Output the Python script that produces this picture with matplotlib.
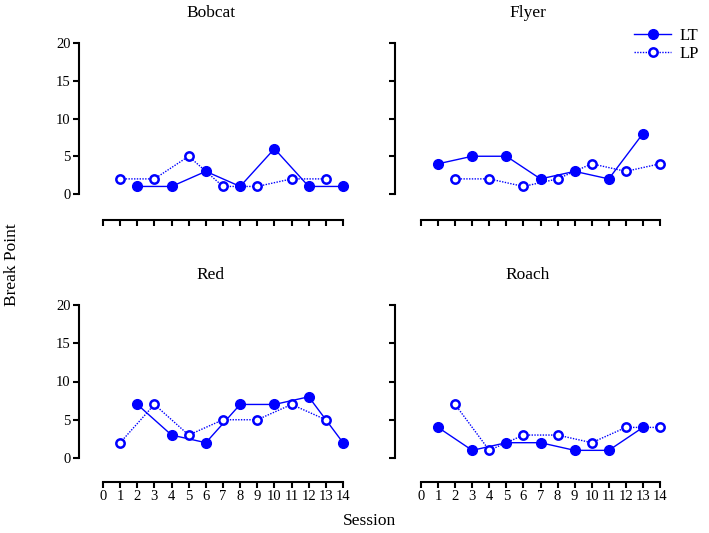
import numpy as np
import matplotlib
matplotlib.use("Agg")
import matplotlib.pyplot as plt

plt.rcParams['font.family'] = ['Liberation Serif', 'DejaVu Serif']

odd = [1, 3, 5, 7, 9, 11, 13]
even = [2, 4, 6, 8, 10, 12, 14]

names = ["Bobcat", "Flyer", "Red", "Roach"]
lt_x = [even, odd, even, odd]
lt_y = [[1, 1, 3, 1, 6, 1, 1],
        [4, 5, 5, 2, 3, 2, 8],
        [7, 3, 2, 7, 7, 8, 2],
        [4, 1, 2, 2, 1, 1, 4]]
lp_x = [odd, even, odd, even]
lp_y = [[2, 2, 5, 1, 1, 2, 2],
        [2, 2, 1, 2, 4, 3, 4],
        [2, 7, 3, 5, 5, 7, 5],
        [7, 1, 3, 3, 2, 4, 4]]

W, H = 709, 533
blue = "#0000ff"

fig = plt.figure(figsize=(W / 100, H / 100), dpi=100)

# pixel boxes: (x0 data, x14 data, y0 data, y20 data, left spine x, bottom spine y)
boxes = [(103, 343, 194, 43, 79, 220),
         (421, 660, 194, 43, 395, 220),
         (103, 343, 458, 305, 79, 482),
         (421, 660, 458, 305, 395, 482)]

for i, (name, b) in enumerate(zip(names, boxes)):
    x0, x1, y0, y1, sx, sy = b
    ax = fig.add_axes([x0 / W, 1 - y0 / H, (x1 - x0) / W, (y0 - y1) / H])
    ax.set_xlim(0, 14)
    ax.set_ylim(0, 20)
    ax.patch.set_alpha(0)
    for s in ['top', 'right']:
        ax.spines[s].set_visible(False)
    ax.spines['left'].set_position(('outward', (x0 - sx) * 0.72))
    ax.spines['bottom'].set_position(('outward', (sy - y0) * 0.72))
    for s in ['left', 'bottom']:
        ax.spines[s].set_linewidth(1.5)
    ax.set_xticks(range(0, 15))
    ax.set_yticks([0, 5, 10, 15, 20])
    ax.tick_params(direction='out', length=4.5, width=1.5, labelsize=10.5, pad=1.5)
    if i < 2:
        ax.tick_params(axis='x', labelbottom=False)
    if i % 2 == 1:
        ax.tick_params(axis='y', labelleft=False)

    ax.plot(lt_x[i], lt_y[i], color=blue, lw=1, marker='o', ms=7,
            mfc=blue, mec=blue, clip_on=False, label="LT", zorder=3)
    ax.plot(lp_x[i], lp_y[i], color=blue, lw=1, ls=(0, (1, 1)), marker='o', ms=6,
            mfc='white', mec=blue, mew=1.8, clip_on=False, label="LP", zorder=3)

    cx = (sx + x1) / 2
    fig.text(cx / W, 1 - (y1 - 30) / H, name, ha='center', va='center', fontsize=12.5)

    if i == 1:
        fig.legend(*ax.get_legend_handles_labels(), loc='upper right',
                   bbox_to_anchor=(1 - 2 / W, 1 - 20 / H), frameon=False,
                   fontsize=12, handlelength=2.2, handletextpad=0.5,
                   labelspacing=0.1, borderpad=0)

fig.text(12 / W, 1 - 265 / H, "Break Point", rotation=90, ha='center',
         va='center', fontsize=12.5)
fig.text(370 / W, 1 - 521 / H, "Session", ha='center', va='center', fontsize=12.5)

fig.savefig("out.png", dpi=100)
